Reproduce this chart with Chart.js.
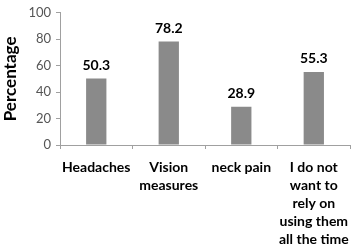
<!DOCTYPE html>
<html><head><meta charset="utf-8">
<script src="https://cdn.jsdelivr.net/npm/chart.js@4/dist/chart.umd.min.js"></script>
<style>html,body{margin:0;padding:0;background:#fff;}#wrap{width:358px;height:250px;}</style>
</head><body><div id="wrap"><canvas id="c" width="358" height="250"></canvas></div>
<script>
const categories = [["Headaches"], ["Vision", "measures"], ["neck pain"], ["I do not", "want to", "rely on", "using them", "all the time"]];
const values = [50.3, 78.2, 28.9, 55.3];
const yTicks = [0, 20, 40, 60, 80, 100];
const FONT = "Lato, 'Open Sans', sans-serif";

const labelPlugin = {
  id: 'vals',
  afterDatasetsDraw(chart) {
    const ctx = chart.ctx;
    const meta = chart.getDatasetMeta(0);
    ctx.save();
    ctx.font = "bold 14px " + FONT;
    ctx.fillStyle = "#000";
    ctx.textAlign = "center";
    ctx.textBaseline = "middle";
    meta.data.forEach((el, i) => {
      ctx.fillText(values[i].toFixed(1), el.x, el.y - 13);
    });
    ctx.restore();
  }
};

new Chart(document.getElementById('c'), {
  type: 'bar',
  data: { labels: categories, datasets: [{ data: values, backgroundColor: '#8a8a8a', barPercentage: 0.28, categoryPercentage: 1 }] },
  options: {
    responsive: false, animation: false,
    layout: { padding: { top: 6, right: 3, left: 0, bottom: 0 } },
    plugins: { legend: { display: false }, tooltip: { enabled: false } },
    scales: {
      x: {
        grid: { display: true, offset: true, drawOnChartArea: false, tickLength: 4, color: '#a0a0a0' },
        border: { color: '#a0a0a0' },
        ticks: { color: '#000', font: { family: FONT, size: 14, weight: 'bold', lineHeight: 1.3 }, padding: 9, maxRotation: 0, autoSkip: false },
        afterFit(s) { s.height = 105; }
      },
      y: {
        min: 0, max: 100,
        afterBuildTicks(s) { s.ticks = yTicks.map(v => ({ value: v })); },
        grid: { drawOnChartArea: false, tickLength: 4, color: '#a0a0a0' },
        border: { color: '#a0a0a0' },
        ticks: { color: '#555', font: { family: FONT, size: 13 }, padding: 5 },
        title: { display: true, text: 'Percentage', color: '#000', font: { family: FONT, size: 17, weight: 'bold' }, padding: 0 },
        afterFit(s) { s.width = 60; }
      }
    }
  },
  plugins: [labelPlugin]
});
</script></body></html>
